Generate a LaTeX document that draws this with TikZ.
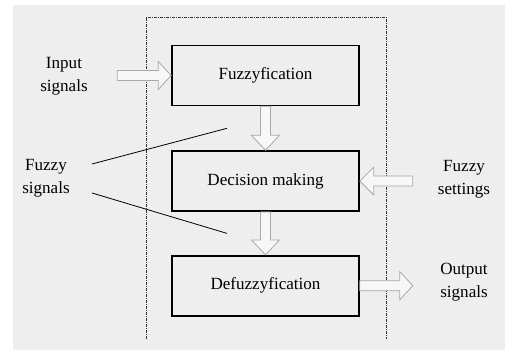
\documentclass[tikz,border=0pt]{standalone}
\usepackage{fontspec}
\setmainfont{Liberation Serif}
\usetikzlibrary{positioning,calc}
\definecolor{Panel}{HTML}{EEEEEE}
\definecolor{Frame}{HTML}{333333}
\definecolor{ArrowGray}{HTML}{A8A8A8}
\tikzset{
  block/.style={draw,line width=1.2pt,minimum width=140.25pt,minimum height=45pt,
    inner sep=0pt,font=\fontsize{12.8}{17}\selectfont},
  lbl/.style={align=center,inner sep=1pt,font=\fontsize{12.8}{17.25}\selectfont},
  hollow/.style={draw=ArrowGray,fill=white!55!Panel,line width=0.6pt,line join=miter},
  pics/fatarrow/.style args={#1/#2}{code={
    \draw[hollow] (0,-5) -- (#1-#2,-5) -- (#1-#2,-14) -- (#1,0)
      -- (#1-#2,14) -- (#1-#2,5) -- (0,5) -- cycle;}}
}

\begin{document}
\begin{tikzpicture}[x=0.75pt,y=-0.75pt]
    \useasboundingbox (0,0) rectangle (505,352);
    \fill[Panel] (13,5) rectangle (505,350);
    \draw[Frame,line width=0.5pt,dash pattern=on 2pt off 1pt on 0.5pt off 1pt]
      (146,339) -- (146,17) -- (386,17) -- (386,339);
    % the three stages
    \node[block] (fuzz) at (265.5,75.5) {Fuzzyfication};
    \node[block,below=33pt of fuzz] (dec) {Decision making};
    \node[block,below=32.25pt of dec] (defuzz) {Defuzzyfication};
    % side labels
    \node[lbl] (insig) at (64,76) {Input\\signals};
    \node[lbl] (fsig) at (46,178.5) {Fuzzy\\signals};
    \node[lbl] (fset) at (464,179.5) {Fuzzy\\settings};
    \node[lbl] (outsig) at (464,282) {Output\\signals};
    % hollow arrows
    \coordinate (infrom) at ($(fuzz.west)+(-54,0)$);
    \coordinate (setfrom) at ($(dec.east)+(53,0)$);
    \pic at (infrom) {fatarrow=54/13};
    \pic[rotate=-90] at (fuzz.south) {fatarrow=44/15};
    \pic[rotate=-90] at (dec.south) {fatarrow=43/15};
    \pic[rotate=180] at (setfrom) {fatarrow=53/14};
    \pic at (defuzz.east) {fatarrow=53/13};
    % pointers to the fuzzy signals
    \coordinate (fsup) at (92,164);
    \coordinate (fsdown) at (92,193);
    \coordinate (gap1) at ($(fuzz.south)!0.5!(dec.north)+(-38.5,0)$);
    \coordinate (gap2) at ($(dec.south)!0.5!(defuzz.north)+(-38.5,0)$);
    \draw[line width=0.6pt] (fsup) -- (gap1);
    \draw[line width=0.6pt] (fsdown) -- (gap2);
\end{tikzpicture}
\end{document}
